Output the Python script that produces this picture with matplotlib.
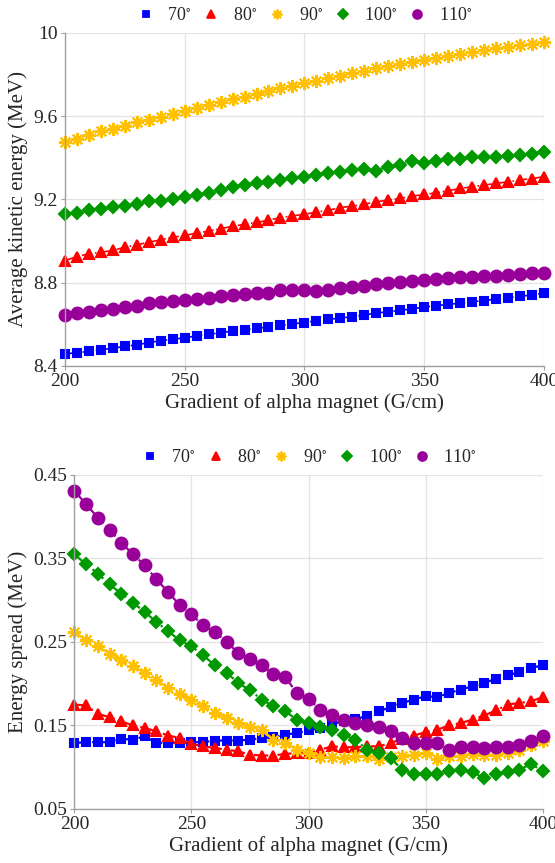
import numpy as np
import matplotlib
matplotlib.use("Agg")
import matplotlib.pyplot as plt
from matplotlib.lines import Line2D

plt.rcParams['font.family'] = ['Liberation Serif', 'DejaVu Serif']
plt.rcParams['mathtext.fontset'] = 'stix'

gradient = list(range(200, 405, 5))
labels = ["70$^{\\circ}$", "80$^{\\circ}$", "90$^{\\circ}$", "100$^{\\circ}$", "110$^{\\circ}$"]

# Average kinetic energy (MeV)
ke_70 = [8.458, 8.464, 8.470, 8.478, 8.486, 8.494, 8.502, 8.512, 8.522, 8.528, 8.536, 8.544, 8.552, 8.560,
         8.568, 8.574, 8.581, 8.587, 8.595, 8.603, 8.608, 8.618, 8.624, 8.630, 8.637, 8.645, 8.654, 8.661,
         8.667, 8.675, 8.683, 8.690, 8.696, 8.702, 8.709, 8.714, 8.722, 8.728, 8.734, 8.742, 8.749]
ke_80 = [8.906, 8.926, 8.939, 8.947, 8.955, 8.971, 8.982, 8.995, 9.006, 9.019, 9.027, 9.039, 9.048, 9.060,
         9.071, 9.081, 9.090, 9.100, 9.113, 9.121, 9.129, 9.139, 9.148, 9.161, 9.168, 9.177, 9.189, 9.197,
         9.205, 9.216, 9.224, 9.232, 9.242, 9.253, 9.261, 9.269, 9.277, 9.285, 9.294, 9.300, 9.310]
ke_90 = [9.474, 9.490, 9.511, 9.527, 9.539, 9.555, 9.571, 9.584, 9.598, 9.613, 9.624, 9.640, 9.653, 9.666,
         9.681, 9.694, 9.706, 9.721, 9.734, 9.745, 9.758, 9.771, 9.782, 9.794, 9.806, 9.818, 9.831, 9.839,
         9.850, 9.861, 9.871, 9.879, 9.887, 9.898, 9.908, 9.919, 9.926, 9.932, 9.940, 9.948, 9.956]
ke_100 = [9.132, 9.135, 9.148, 9.156, 9.165, 9.168, 9.176, 9.194, 9.194, 9.202, 9.210, 9.221, 9.232, 9.245,
          9.258, 9.268, 9.277, 9.285, 9.294, 9.305, 9.310, 9.318, 9.326, 9.334, 9.342, 9.347, 9.337, 9.358,
          9.366, 9.385, 9.377, 9.385, 9.394, 9.395, 9.403, 9.403, 9.406, 9.410, 9.415, 9.419, 9.426]
ke_110 = [8.645, 8.653, 8.661, 8.667, 8.675, 8.682, 8.690, 8.701, 8.707, 8.714, 8.717, 8.722, 8.728, 8.734,
          8.741, 8.746, 8.749, 8.752, 8.763, 8.765, 8.765, 8.762, 8.765, 8.773, 8.779, 8.784, 8.792, 8.798,
          8.805, 8.810, 8.813, 8.816, 8.821, 8.826, 8.829, 8.832, 8.834, 8.837, 8.842, 8.845, 8.848]

# Energy spread (MeV)
es_70 = [0.129, 0.130, 0.130, 0.130, 0.134, 0.133, 0.137, 0.129, 0.129, 0.129, 0.130, 0.130, 0.132, 0.132,
         0.132, 0.133, 0.135, 0.136, 0.139, 0.141, 0.144, 0.147, 0.152, 0.155, 0.158, 0.161, 0.167, 0.172,
         0.177, 0.181, 0.185, 0.184, 0.189, 0.193, 0.197, 0.201, 0.206, 0.210, 0.214, 0.219, 0.222]
es_80 = [0.175, 0.174, 0.164, 0.160, 0.155, 0.150, 0.147, 0.143, 0.138, 0.135, 0.128, 0.125, 0.123, 0.121,
         0.119, 0.115, 0.114, 0.114, 0.116, 0.117, 0.117, 0.121, 0.125, 0.124, 0.124, 0.125, 0.125, 0.129,
         0.134, 0.138, 0.142, 0.145, 0.150, 0.153, 0.157, 0.162, 0.168, 0.175, 0.177, 0.179, 0.184]
es_90 = [0.262, 0.252, 0.245, 0.236, 0.228, 0.221, 0.213, 0.204, 0.195, 0.188, 0.180, 0.173, 0.165, 0.159,
         0.153, 0.148, 0.145, 0.133, 0.129, 0.121, 0.117, 0.112, 0.112, 0.111, 0.113, 0.113, 0.110, 0.112,
         0.114, 0.115, 0.117, 0.110, 0.113, 0.113, 0.116, 0.115, 0.115, 0.117, 0.121, 0.127, 0.131]
es_100 = [0.355, 0.343, 0.332, 0.319, 0.308, 0.297, 0.286, 0.274, 0.263, 0.252, 0.245, 0.234, 0.222, 0.213,
          0.201, 0.192, 0.181, 0.173, 0.167, 0.157, 0.153, 0.148, 0.144, 0.139, 0.133, 0.121, 0.117, 0.111,
          0.097, 0.092, 0.092, 0.092, 0.095, 0.097, 0.094, 0.087, 0.092, 0.094, 0.097, 0.104, 0.095]
es_110 = [0.431, 0.415, 0.399, 0.384, 0.369, 0.355, 0.342, 0.325, 0.310, 0.294, 0.283, 0.270, 0.262, 0.250,
          0.237, 0.230, 0.222, 0.212, 0.208, 0.189, 0.182, 0.169, 0.163, 0.157, 0.153, 0.150, 0.148, 0.143,
          0.135, 0.129, 0.129, 0.129, 0.121, 0.124, 0.124, 0.123, 0.124, 0.124, 0.127, 0.131, 0.137]

colors = ['#0000FF', '#FF0000', '#FFC000', '#009900', '#990099']
markers = ['s', '^', (8, 2, 0), 'D', 'o']
msizes = [6, 7.5, 9.5, 6.5, 8.5]

fig = plt.figure(figsize=(5.55, 8.63), dpi=100)
ax1 = fig.add_axes([0.117, 0.5759, 0.863, 0.3859])
ax2 = fig.add_axes([0.134, 0.0626, 0.844, 0.387])

tick_col = '#262626'

def style(ax, yticks, ylim, ylabel, ticklabels):
    ax.set_xlim(200, 400)
    ax.set_ylim(*ylim)
    ax.set_xticks([200, 250, 300, 350, 400])
    ax.set_yticks(yticks)
    ax.set_yticklabels(ticklabels)
    ax.grid(True, color='#E3E3E3', linewidth=0.9)
    ax.set_axisbelow(True)
    for s in ['top', 'right']:
        ax.spines[s].set_visible(False)
    for s in ['left', 'bottom']:
        ax.spines[s].set_color('#A0A0A0')
        ax.spines[s].set_linewidth(1.0)
    ax.tick_params(axis='both', labelsize=14, colors='#A0A0A0', labelcolor=tick_col,
                   direction='out', length=3, width=0.8, pad=2)
    ax.set_xlabel('Gradient of alpha magnet (G/cm)', fontsize=15, color=tick_col, labelpad=2)
    ax.set_ylabel(ylabel, fontsize=15, color=tick_col, labelpad=4)

top_series = [ke_70, ke_80, ke_90, ke_100, ke_110]
bot_series = [es_70, es_80, es_90, es_100, es_110]

for ser, c, m, ms, lab in zip(top_series, colors, markers, msizes, labels):
    ax1.plot(gradient, ser, linestyle='-.', color=c, linewidth=1.2, marker=m, markersize=ms,
             markerfacecolor=c, markeredgecolor=c, markeredgewidth=1.5, label=lab, clip_on=False)
for ser, c, m, ms, lab in zip(bot_series, colors, markers, msizes, labels):
    ax2.plot(gradient, ser, linestyle='-.', color=c, linewidth=1.6, marker=m, markersize=ms,
             markerfacecolor=c, markeredgecolor=c, markeredgewidth=1.5, label=lab, clip_on=False)

style(ax1, [8.4, 8.8, 9.2, 9.6, 10.0], (8.4, 10.0), 'Average kinetic energy (MeV)',
      ['8.4', '8.8', '9.2', '9.6', '10'])
style(ax2, [0.05, 0.15, 0.25, 0.35, 0.45], (0.05, 0.45), 'Energy spread (MeV)',
      ['0.05', '0.15', '0.25', '0.35', '0.45'])

def legend(ax, y):
    handles = [Line2D([], [], linestyle='none', marker=m, color=c, markersize=ms * 0.75,
                      markeredgewidth=1.3) for c, m, ms in zip(colors, markers, msizes)]
    ax.legend(handles, labels, loc='lower center', bbox_to_anchor=(0.5, y), ncol=5, frameon=False,
              fontsize=13, handlelength=1.0, handletextpad=0.7, columnspacing=0.6,
              borderaxespad=0, labelcolor=tick_col)

legend(ax1, 1.005)
legend(ax2, 1.005)

fig.savefig('out.png', dpi=100)
